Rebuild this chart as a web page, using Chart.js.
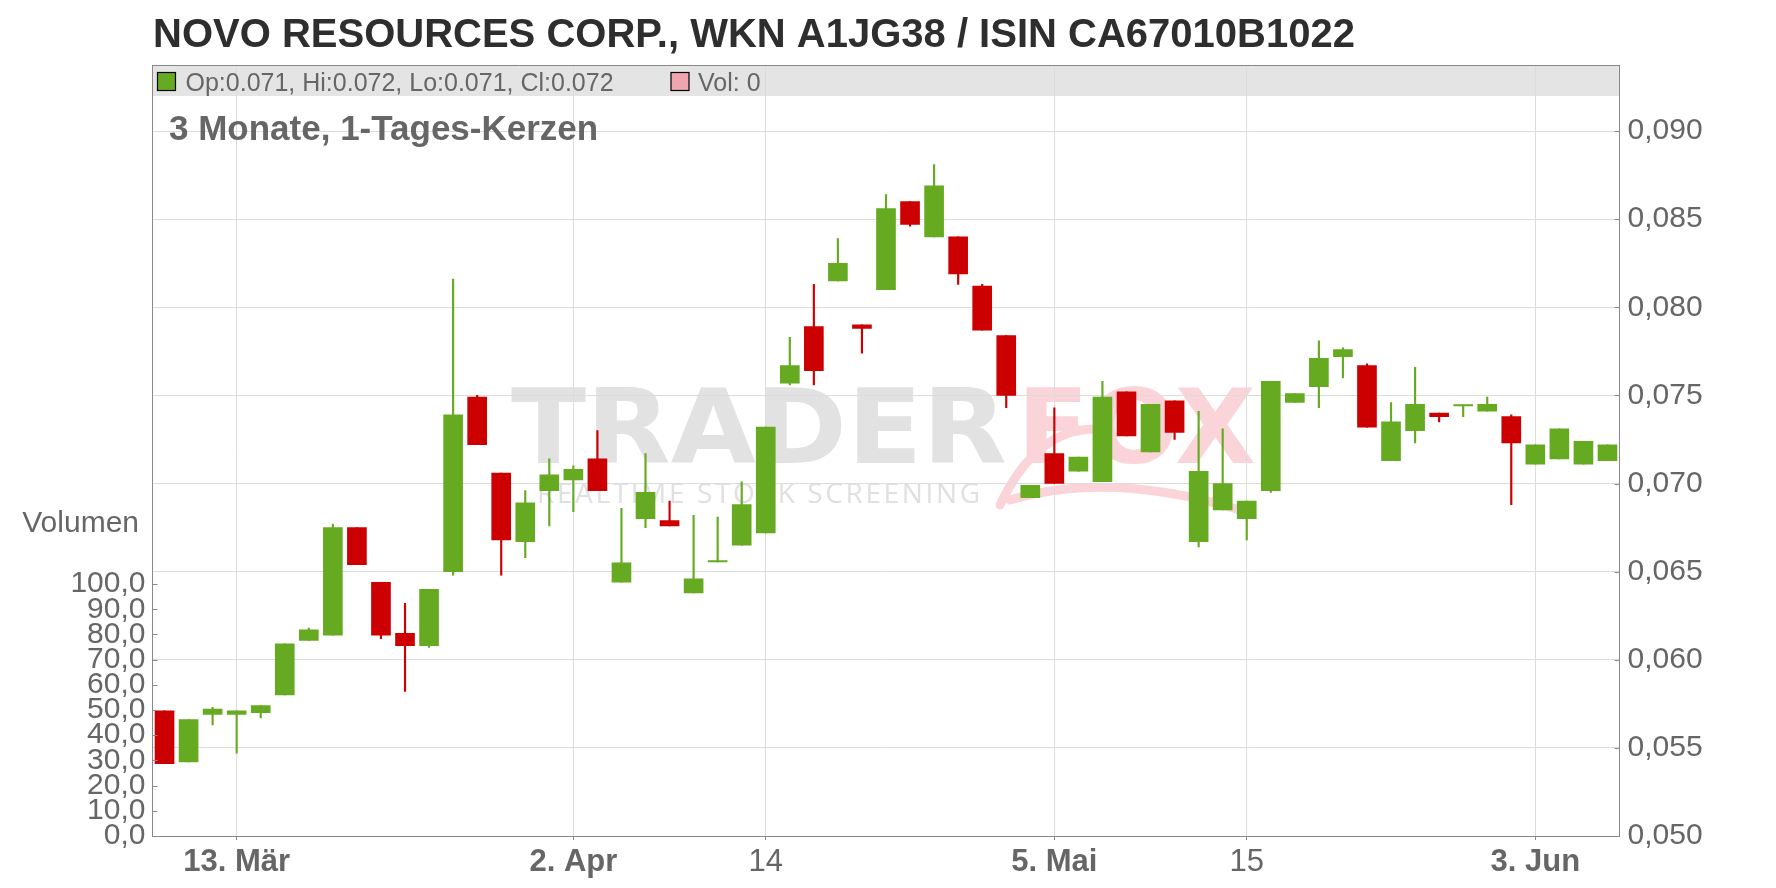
<!DOCTYPE html>
<html>
<head>
<meta charset="utf-8">
<script src="https://cdn.jsdelivr.net/npm/chart.js@4.4.1/dist/chart.umd.min.js"></script>
<style>
html,body{margin:0;padding:0;background:#ffffff;}
#wrap{width:1776px;height:888px;position:relative;}
</style>
</head>
<body>
<div id="wrap"><canvas id="c"></canvas></div>
<script>
// ---------- text ----------
const titleText = 'NOVO RESOURCES CORP., WKN A1JG38 / ISIN CA67010B1022';
const subtitleText = '3 Monate, 1-Tages-Kerzen';
const volumeTitle = 'Volumen';
const watermarkMain = 'TRADER';
const watermarkAccent = 'FOX';
const watermarkTag = 'REALTIME STOCK SCREENING';

// ---------- data (daily candles) ----------
const dates = [
 '2025-03-10','2025-03-11','2025-03-12','2025-03-13','2025-03-14',
 '2025-03-17','2025-03-18','2025-03-19','2025-03-20','2025-03-21',
 '2025-03-24','2025-03-25','2025-03-26','2025-03-27','2025-03-28',
 '2025-03-31','2025-04-01','2025-04-02','2025-04-03','2025-04-04',
 '2025-04-07','2025-04-08','2025-04-09','2025-04-10','2025-04-11',
 '2025-04-14','2025-04-15','2025-04-16','2025-04-17','2025-04-22',
 '2025-04-23','2025-04-24','2025-04-25','2025-04-28','2025-04-29',
 '2025-04-30','2025-05-02','2025-05-05','2025-05-06','2025-05-07',
 '2025-05-08','2025-05-09','2025-05-12','2025-05-13','2025-05-14',
 '2025-05-15','2025-05-16','2025-05-19','2025-05-20','2025-05-21',
 '2025-05-22','2025-05-23','2025-05-26','2025-05-27','2025-05-28',
 '2025-05-30','2025-06-02','2025-06-03','2025-06-04','2025-06-05',
 '2025-06-06'
];
const openP = [
 0.0571,0.0542,0.0569,0.0569,0.0570, 0.0580,0.0611,0.0614,0.0675,0.0644,
 0.0615,0.0608,0.0650,0.0749,0.0706, 0.0667,0.0696,0.0702,0.0714,0.0644,
 0.0680,0.0679,0.0638,0.06555,0.0665, 0.0672,0.0757,0.0789,0.0815,0.0790,
 0.0810,0.0860,0.0840,0.0840,0.0812, 0.0784,0.0692,0.0717,0.0707,0.0701,
 0.0752,0.0718,0.0747,0.0667,0.0685, 0.0680,0.0696,0.0746,0.0755,0.0772,
 0.0767,0.0713,0.0730,0.0740,0.07440, 0.0741,0.0738,0.0711,0.0714,0.0711,
 0.0713
];
const highP = [
 0.0571,0.0566,0.0573,0.0571,0.0574, 0.0609,0.0618,0.0677,0.0675,0.0644,
 0.0632,0.0640,0.0816,0.0750,0.0706, 0.0696,0.0714,0.0710,0.0730,0.0686,
 0.0717,0.0690,0.0682,0.0681,0.0701, 0.0732,0.0783,0.0813,0.0839,0.0790,
 0.0864,0.0860,0.0881,0.0840,0.0813, 0.0784,0.0699,0.0743,0.0715,0.0758,
 0.0752,0.0745,0.0747,0.0741,0.0731, 0.0690,0.0758,0.0751,0.0781,0.0777,
 0.0768,0.0746,0.0766,0.0740,0.07445, 0.0749,0.0739,0.0722,0.0731,0.0724,
 0.0722
];
const lowP = [
 0.0541,0.0542,0.0563,0.0547,0.0567, 0.0580,0.0611,0.0614,0.0654,0.0612,
 0.0582,0.0607,0.0648,0.0722,0.0648, 0.0658,0.0676,0.0684,0.0696,0.0644,
 0.0675,0.0676,0.0638,0.06555,0.0665, 0.0672,0.0756,0.0756,0.0815,0.0774,
 0.0810,0.0846,0.0840,0.0813,0.0787, 0.0743,0.0692,0.0700,0.0707,0.0701,
 0.0727,0.0718,0.0725,0.0664,0.0685, 0.0668,0.0695,0.0746,0.0743,0.0760,
 0.0732,0.0713,0.0723,0.0735,0.0738, 0.0741,0.0688,0.0711,0.0714,0.0711,
 0.0713
];
const closeP = [
 0.0541,0.0566,0.0572,0.0571,0.0574, 0.0609,0.0617,0.0675,0.0654,0.0614,
 0.0608,0.0640,0.0739,0.0722,0.0668, 0.0689,0.0705,0.0708,0.0696,0.0655,
 0.0695,0.0676,0.0646,0.0656,0.0688, 0.0732,0.0767,0.0764,0.0825,0.0788,
 0.0856,0.0847,0.0869,0.0819,0.0787, 0.0750,0.0699,0.0700,0.0715,0.0749,
 0.0727,0.0745,0.0729,0.0707,0.0700, 0.0690,0.0758,0.0751,0.0771,0.0776,
 0.0732,0.0735,0.0745,0.0738,0.07445, 0.0745,0.0723,0.0722,0.0731,0.0724,
 0.0722
];
const lastVolume = 0;

// ---------- axis ticks ----------
const tickDates  = ['2025-03-13','2025-04-02','2025-04-14','2025-05-05','2025-05-15','2025-06-03'];
const tickLabels = ['13. Mär','2. Apr','14','5. Mai','15','3. Jun'];
const priceTicks = [0.050,0.055,0.060,0.065,0.070,0.075,0.080,0.085,0.090];
const volumeTicks = [0,10,20,30,40,50,60,70,80,90,100];

// ---------- styling ----------
const FONT = "'Liberation Sans', Arial, sans-serif";
const UP = '#66aa22', DOWN = '#cc0000';
const GRID = '#dcdcdc', AXIS = '#888888', TXT = '#666666';

const bodies = dates.map((d, i) => [openP[i], closeP[i]]);
const wicks = dates.map((d, i) => [lowP[i], highP[i]]);
const candleColors = dates.map((d, i) => closeP[i] >= openP[i] ? UP : DOWN);
const tickIndex = tickDates.map(d => dates.indexOf(d));
function labelForIndex(v){ const k = tickIndex.indexOf(v); return k >= 0 ? tickLabels[k] : ''; }

const decor = {
  id: 'decor',
  beforeDraw(chart){
    const ctx = chart.ctx, a = chart.chartArea;
    ctx.save();
    // legend band
    ctx.fillStyle = '#e4e4e4';
    ctx.fillRect(a.left, a.top, a.right - a.left, 31);
    // watermark
    function fitText(txt, font, color, x0, x1, baseline){
      ctx.font = font; ctx.fillStyle = color; ctx.textBaseline = 'alphabetic'; ctx.textAlign = 'left';
      const w = ctx.measureText(txt).width;
      ctx.save(); ctx.translate(x0, baseline); ctx.scale((x1 - x0) / w, 1); ctx.fillText(txt, 0, 0); ctx.restore();
    }
    fitText(watermarkMain, "bold 104px 'DejaVu Sans'", '#e2e2e2', 511, 1007, 463);
    fitText(watermarkAccent, "bold 104px 'DejaVu Sans'", '#fbd4da', 1017, 1256, 463);
    // tagline with spaced letters
    ctx.font = "28px 'Open Sans'"; ctx.fillStyle = '#e0e0e0';
    const chars = watermarkTag.split('');
    const widths = chars.map(c => ctx.measureText(c).width);
    const tot = widths.reduce((s, w) => s + w, 0);
    const gap = (980 - 537 - tot) / (chars.length - 1);
    let x = 537;
    chars.forEach((c, i) => { ctx.fillText(c, x, 503); x += widths[i] + gap; });
    // fox swoosh
    ctx.strokeStyle = '#fbd4da'; ctx.lineWidth = 9; ctx.lineCap = 'round';
    ctx.beginPath(); ctx.moveTo(1000, 505); ctx.quadraticCurveTo(1040, 420, 1110, 430); ctx.stroke();
    ctx.beginPath(); ctx.moveTo(1010, 500); ctx.quadraticCurveTo(1110, 470, 1240, 510); ctx.stroke();
    ctx.restore();
  },
  afterDraw(chart){
    const ctx = chart.ctx, a = chart.chartArea;
    ctx.save();
    // top border
    ctx.strokeStyle = AXIS; ctx.lineWidth = 1;
    ctx.beginPath(); ctx.moveTo(a.left, a.top + 0.5); ctx.lineTo(a.right, a.top + 0.5); ctx.stroke();
    // inward tick marks on both vertical axes
    const yv = chart.scales.yv, yp = chart.scales.y;
    ctx.beginPath();
    yv.ticks.forEach(t => { const py = Math.round(yv.getPixelForValue(t.value)) + 0.5; ctx.moveTo(a.left, py); ctx.lineTo(a.left + 5, py); });
    yp.ticks.forEach(t => { const py = Math.round(yp.getPixelForValue(t.value)) + 0.5; ctx.moveTo(a.right - 5, py); ctx.lineTo(a.right, py); });
    ctx.stroke();
    // title
    ctx.fillStyle = '#2e2e2e'; ctx.font = 'bold 40px ' + FONT; ctx.textAlign = 'left'; ctx.textBaseline = 'alphabetic';
    ctx.fillText(titleText, 153, 47);
    // legend
    const last = dates.length - 1;
    ctx.lineWidth = 1.2; ctx.strokeStyle = '#000';
    ctx.fillStyle = closeP[last] >= openP[last] ? UP : DOWN;
    ctx.fillRect(157.5, 72.5, 18, 18); ctx.strokeRect(157.5, 72.5, 18, 18);
    ctx.fillStyle = '#eea5ae';
    ctx.fillRect(671, 72.5, 18, 18); ctx.strokeRect(671, 72.5, 18, 18);
    ctx.fillStyle = TXT; ctx.font = '25px ' + FONT;
    const f = v => v.toFixed(3);
    ctx.fillText('Op:' + f(openP[last]) + ', Hi:' + f(highP[last]) + ', Lo:' + f(lowP[last]) + ', Cl:' + f(closeP[last]), 185.5, 90.5);
    ctx.fillText('Vol: ' + lastVolume, 698, 90.5);
    // subtitle
    ctx.font = 'bold 35px ' + FONT;
    ctx.fillText(subtitleText, 169, 140);
    // volume title
    ctx.font = '30px ' + FONT; ctx.textAlign = 'right'; ctx.textBaseline = 'middle';
    ctx.fillText(volumeTitle, 139, 524);
    ctx.restore();
  }
};

new Chart(document.getElementById('c'), {
  type: 'bar',
  data: {
    labels: dates,
    datasets: [
      { label: 'Kerzen', data: bodies, backgroundColor: candleColors, barThickness: 19, minBarLength: 1.5,
        grouped: false, order: 0, borderWidth: 0, xAxisID: 'x', yAxisID: 'y' },
      { label: 'Docht', data: wicks, backgroundColor: candleColors, barThickness: 1.5,
        grouped: false, order: 1, borderWidth: 0, xAxisID: 'x', yAxisID: 'y' }
    ]
  },
  plugins: [decor],
  options: {
    responsive: true,
    maintainAspectRatio: false,
    animation: false,
    layout: { padding: { top: 65, left: 0, right: 0, bottom: 0 } },
    plugins: { legend: { display: false }, tooltip: { enabled: false }, title: { display: false } },
    scales: {
      x: {
        type: 'category',
        offset: true,
        grid: { offset: false, color: GRID, lineWidth: 1, tickLength: 4, tickColor: AXIS, drawTicks: true },
        border: { color: AXIS, width: 1 },
        afterBuildTicks(scale){ scale.ticks = scale.ticks.filter(t => tickIndex.includes(t.value)); },
        afterFit(scale){ scale.height = 52; },
        ticks: {
          autoSkip: false, maxRotation: 0, padding: 4, color: TXT,
          callback: (v) => labelForIndex(v),
          font: (c) => ({ family: FONT, size: 31, weight: (c.tick && labelForIndex(c.tick.value).indexOf('.') >= 0) ? 'bold' : 'normal' })
        }
      },
      y: {
        position: 'right',
        min: 0.05, max: 0.09375,
        grid: { color: GRID, lineWidth: 1, drawTicks: false },
        border: { color: AXIS, width: 1 },
        afterBuildTicks(scale){ scale.ticks = priceTicks.map(v => ({ value: v })); },
        afterFit(scale){ scale.width = 156.5; },
        ticks: { color: TXT, padding: 8, font: { family: FONT, size: 30 },
          callback: (v) => Number(v).toFixed(3).replace('.', ',') }
      },
      yv: {
        position: 'left',
        min: 0, max: 306,
        grid: { drawOnChartArea: false, drawTicks: false },
        border: { color: AXIS, width: 1 },
        afterBuildTicks(scale){ scale.ticks = volumeTicks.map(v => ({ value: v })); },
        afterFit(scale){ scale.width = 152.5; },
        ticks: { color: TXT, padding: 7, font: { family: FONT, size: 30 },
          callback: (v) => Number(v).toFixed(1).replace('.', ',') }
      }
    }
  }
});
</script>
</body>
</html>
